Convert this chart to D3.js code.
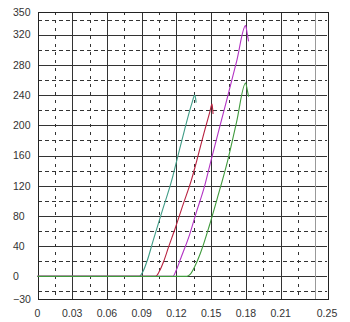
<!DOCTYPE html>
<html>
<head>
<meta charset="utf-8">
<script src="https://cdn.jsdelivr.net/npm/d3@7"></script>
<style>
  body { margin: 0; background: #fff; }
  .lbl { font-family: "Liberation Sans", Arial, sans-serif; font-size: 10.5px; fill: #333; }
  .major { stroke: #333; stroke-width: 1px; shape-rendering: crispEdges; }
  .minor { stroke: #333; stroke-width: 1px; shape-rendering: crispEdges; }
  .curve { fill: none; stroke-width: 1.1px; }
</style>
</head>
<body>
<svg id="chart" width="350" height="322"></svg>
<script>
  // tick values
  const xTicks = [0, 0.03, 0.06, 0.09, 0.12, 0.15, 0.18, 0.21, 0.25];
  const xTickLabels = ["0", "0.03", "0.06", "0.09", "0.12", "0.15", "0.18", "0.21", "0.25"];
  const xMajor = [0.03, 0.06, 0.09, 0.12, 0.15, 0.18, 0.21, 0.24];
  const xMinor = [0.015, 0.045, 0.075, 0.105, 0.135, 0.165, 0.195, 0.225];
  const yTicks = [350, 320, 280, 240, 200, 160, 120, 80, 40, 0, -30];
  const yMajor = [0, 40, 80, 120, 160, 200, 240, 280, 320];
  const yMinor = [-20, 20, 60, 100, 140, 180, 220, 260, 300, 340];

  // series as [x, y] pairs
  const tealSeries = [[0,0],[0.088,0],[0.091,6],[0.095,22],[0.1,48],[0.108,88],[0.1157,126],
    [0.121,158],[0.127,194],[0.1335,230],[0.1358,240],[0.1365,236],[0.137,230]];
  const redSeries = [[0,0],[0.102,0],[0.105,6],[0.109,20],[0.113,38],[0.119,64],[0.1257,95],
    [0.133,128],[0.1375,153],[0.1445,194],[0.1487,217],[0.1507,228],[0.1512,222],[0.1516,215]];
  const magentaSeries = [[0,0],[0.117,0],[0.1195,7],[0.124,25],[0.1315,56],[0.137,84],[0.1444,120],
    [0.1496,152],[0.1625,228],[0.172,285],[0.1797,332],[0.181,322],[0.1823,311]];
  const greenSeries = [[0,0],[0.129,0],[0.132,3],[0.1358,13],[0.1405,30],[0.1435,43],[0.148,65],
    [0.155,102],[0.1645,155],[0.172,205],[0.1797,256],[0.181,248],[0.1823,238]];

  const series = [
    { data: tealSeries, color: "#3f9c86" },
    { data: redSeries, color: "#b8213f" },
    { data: magentaSeries, color: "#b232c4" },
    { data: greenSeries, color: "#3f9a3c" }
  ];

  const plotL = 37.5, plotR = 327, plotT = 12, plotB = 299;
  const x = d3.scaleLinear().domain([0, 0.25]).range([plotL, plotR]);
  const y = d3.scaleLinear().domain([-30, 350]).range([plotB, plotT]);

  const svg = d3.select("#chart");

  // minor dashed grid
  svg.append("g").selectAll("line").data(yMinor).join("line")
    .attr("class", "minor")
    .attr("x1", plotL).attr("x2", plotR)
    .attr("y1", d => Math.round(y(d)) + 0.5).attr("y2", d => Math.round(y(d)) + 0.5)
    .attr("stroke-dasharray", "4,3");
  svg.append("g").selectAll("line").data(xMinor).join("line")
    .attr("class", "minor")
    .attr("y1", plotT).attr("y2", plotB)
    .attr("x1", d => Math.round(x(d)) + 0.5).attr("x2", d => Math.round(x(d)) + 0.5)
    .attr("stroke-dasharray", "3,5");

  // major solid grid
  svg.append("g").selectAll("line").data(yMajor).join("line")
    .attr("class", "major")
    .attr("x1", plotL).attr("x2", plotR)
    .attr("y1", d => Math.round(y(d)) + 0.5).attr("y2", d => Math.round(y(d)) + 0.5);
  svg.append("g").selectAll("line").data(xMajor).join("line")
    .attr("class", "major")
    .style("stroke", d => d === 0.24 ? "#999" : null)
    .attr("y1", plotT).attr("y2", plotB)
    .attr("x1", d => Math.round(x(d)) + 0.5).attr("x2", d => Math.round(x(d)) + 0.5);

  // frame
  svg.append("rect")
    .attr("x", Math.round(plotL) + 0.5).attr("y", plotT + 0.5)
    .attr("width", Math.round(plotR - plotL)).attr("height", plotB - plotT)
    .attr("fill", "none").attr("stroke", "#222").style("shape-rendering", "crispEdges");

  // curves
  const line = d3.line().curve(d3.curveMonotoneX).x(d => x(d[0])).y(d => y(d[1]));
  svg.append("g").selectAll("path").data(series).join("path")
    .attr("class", "curve")
    .attr("stroke", d => d.color)
    .attr("d", d => line(d.data));

  // y labels
  svg.append("g").selectAll("text").data(yTicks).join("text")
    .attr("class", "lbl")
    .attr("x", 13)
    .attr("y", d => y(d) + 3.8)
    .text(d => d < 0 ? "\u2212" + Math.abs(d) : d);

  // x labels
  svg.append("g").selectAll("text").data(xTicks).join("text")
    .attr("class", "lbl")
    .attr("text-anchor", "middle")
    .attr("x", d => x(d))
    .attr("y", 317)
    .text((d, i) => xTickLabels[i]);
</script>
</body>
</html>
